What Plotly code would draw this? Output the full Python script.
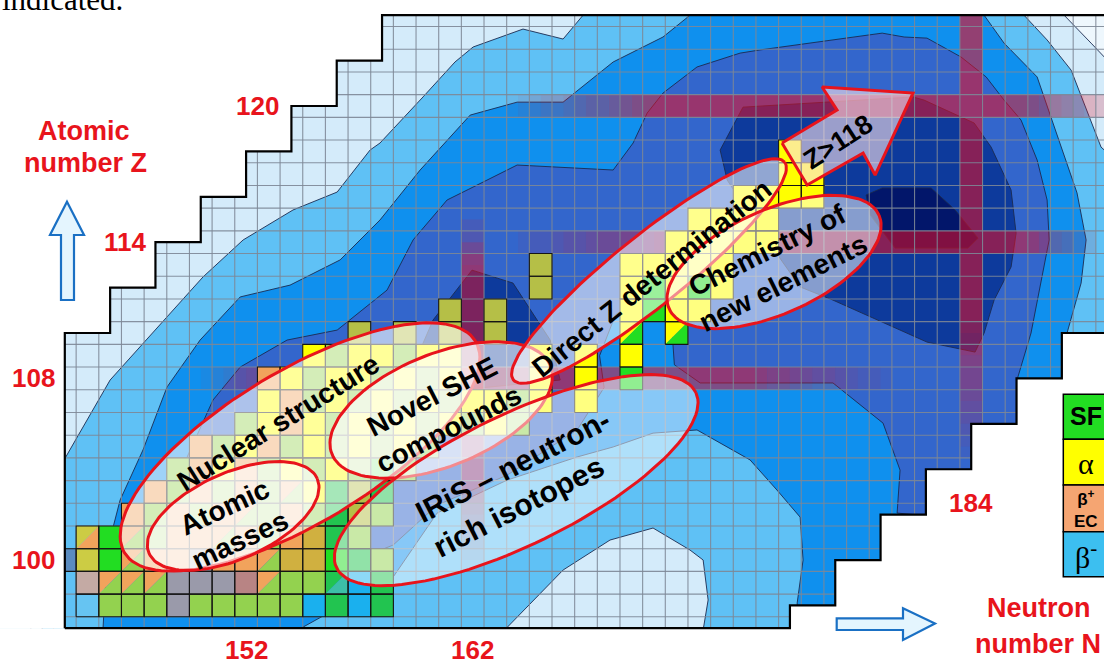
import math
import plotly.graph_objects as go

W, H = 1104, 664
N_RANGE = [141.14, 189.86]
Z_RANGE = [95.42, 124.67]

# ---------------- chart outline (staircase corners) ----------------
upper_edge_N = [144, 144, 146, 146, 148, 148, 150, 150, 152, 152, 154, 154, 156, 156, 158, 158, 191]
upper_edge_Z = [97, 110, 110, 112, 112, 114, 114, 116, 116, 118, 118, 120, 120, 122, 122, 124, 124]
lower_edge_N = [144, 176, 176, 178, 178, 180, 180, 182, 182, 184, 184, 186, 186, 188, 188, 191]
lower_edge_Z = [97, 97, 98, 98, 100, 100, 102, 102, 104, 104, 106, 106, 108, 108, 110, 110]

# ---------------- half-life contour regions (N, Z) ----------------
light_N = [143.5, 146.0, 150.10, 151.87, 154.07, 156.02, 157.47, 157.91, 159.81, 161.22, 162.02, 164.22,
           165.99, 166.87, 166.87, 186.33, 186.33, 187.35, 188.41, 189.11, 189.73, 190.5, 190.5, 143.0, 143.0]
light_Z = [103.6, 107.93, 112.47, 114.10, 115.42, 116.21, 118.06, 118.37, 120.40, 121.94, 122.60, 123.39,
           122.95, 124.0, 124.8, 124.8, 124.0, 122.91, 121.58, 119.82, 118.19, 117.5, 95.0, 95.0, 103.6]

pale_island_N = [163.0, 165.99, 168.06, 169.96, 171.59, 172.17, 172.39, 172.1]
pale_island_Z = [96.5, 99.56, 100.88, 101.41, 100.44, 100.0, 98.24, 96.5]

palest_N = [188.1, 188.1, 189.29, 190.5, 190.5]
palest_Z = [124.8, 124.0, 122.77, 121.5, 124.8]

medium_N = [145.7, 145.69, 145.87, 146.44, 147.45, 148.51, 149.97, 151.74, 153.94, 156.15, 157.91, 159.68,
            161.89, 163.96, 165.99, 168.20, 170.40, 171.59, 171.59, 184.57, 184.57, 185.45, 186.91, 187.52,
            188.23, 188.67, 189.07, 188.85, 188.23, 188.23, 176.32, 176.32, 176.58, 176.45, 175.43, 174.24,
            171.90, 169.96, 168.20, 166.61, 163.52, 160.43, 158.49, 155.84, 154.52, 154.5]
medium_Z = [96.5, 97.05, 100.44, 102.64, 104.85, 107.62, 109.69, 111.59, 112.11, 113.22, 114.98, 117.18,
            119.60, 120.17, 120.17, 121.94, 123.04, 124.0, 124.8, 124.8, 124.0, 122.77, 121.28, 119.51,
            117.49, 116.17, 114.10, 112.20, 110.0, 96.5, 96.5, 98.11, 100.0, 101.89, 103.08, 104.41,
            105.73, 105.59, 104.98, 104.54, 103.52, 102.07, 99.25, 97.80, 97.05, 96.5]

dark_N = [149.40, 150.54, 151.74, 153.81, 156.02, 158.22, 159.37, 160.87, 162.02, 163.96, 168.20, 169.08,
          169.70, 170.40, 171.90, 173.80, 174.68, 180.07, 181.04, 182.05, 183.55, 184.66, 185.45, 186.20,
          186.91, 187.35, 187.44, 187.08, 186.64, 186.02, 187.0, 187.0, 182.5, 180.73, 180.86, 180.11,
          177.90, 175.70, 172.04, 170.9, 170.7, 169.5, 168.3, 167.6, 167.8, 166.61, 163.52, 160.43,
          158.49, 155.71, 152.62, 149.97, 148.87]
dark_Z = [104.54, 107.05, 108.50, 109.69, 110.13, 111.89, 114.10, 115.86, 116.43, 117.40, 117.18, 118.37,
          119.69, 120.57, 121.72, 122.33, 122.47, 123.21, 123.04, 122.99, 122.16, 121.28, 120.26, 119.38,
          117.62, 115.86, 114.10, 112.20, 110.0, 107.93, 107.0, 102.5, 101.9, 102.07, 103.96, 106.03,
          107.80, 107.80, 107.80, 108.6, 111.5, 111.7, 110.8, 109.0, 107.6, 105.73, 103.74, 102.42,
          100.66, 99.56, 99.34, 100.66, 103.08]

darker_N = [173.93, 181.43, 181.92, 184.13, 184.88, 185.76, 185.98, 185.76, 185.01, 184.57, 184.17,
            182.05, 180.86, 177.90, 176.45, 174.68, 173.23, 172.92]
darker_Z = [119.95, 120.40, 120.26, 119.25, 118.19, 116.30, 114.40, 112.91, 111.45, 110.0, 109.16,
            109.60, 110.13, 111.45, 112.03, 114.54, 116.74, 118.06]

darker_isl_N = [160.25, 161.97, 163.78, 164.66, 165.42, 165.86, 161.44, 159.68]
darker_isl_Z = [110.57, 112.77, 112.20, 110.88, 109.69, 107.93, 107.49, 109.25]

darkest_N = [179.36, 180.07, 182.23, 183.29, 184.30, 183.86, 180.64, 179.54]
darkest_Z = [116.08, 116.39, 116.39, 115.42, 114.18, 113.74, 113.74, 115.20]

# ---------------- highlighted shells (band -> opacity profile) ----------------
row_bands = {120: [(163.0, 0.0), (170.0, 0.55), (186.5, 0.55), (190.5, 0.1)],
             114: [(163.5, 0.0), (172.0, 0.55), (186.0, 0.55), (189.5, 0.05)],
             108: [(149.5, 0.0), (155.0, 0.5), (174.0, 0.5), (181.0, 0.0)]}
col_bands = {184: [(104.0, 0.0), (108.0, 0.35), (111.0, 0.55), (124.8, 0.58)],
             162: [(99.0, 0.0), (104.0, 0.45), (113.0, 0.5), (114.6, 0.08)]}

# ---------------- decay-mode cells: row Z -> (first N, codes) ----------------
cell_rows = {
    98: (145, "Bl Gl Gl Gl Gr Gl Gl Gl Gl Gl B Gd B Gd"),
    99: (145, "Rg O/Gl O/Gl O/Gl Gr Gr Gr Mv O/Gl Gl Gl Gd/Te B Gd"),
    100: (144, "St Oy G O/Gl O O Gr O O O/Gl Ob Ob G Gd Gl"),
    101: (145, "Oy/O G O/Gl Gl O O O/Gl O Gl O Ob Gd Gl"),
    102: (147, "O Gl O Gl O O/Gl Gl O Gl Gd Ol Gl"),
    103: (148, "O Gl O Gl O Gl O/Gl Y Gd Ol Gd"),
    104: (149, "Gl O Y O Gl Y Gl Y Gl G Gl"),
    105: (150, "O Gl Y O Gl Y Gl Y Gl Y Gl"),
    106: (152, "Gl Y O Y Gl Y Gl Y Gl Y Gl Y Gl"),
    107: (153, "Y O Gl Y Gl Y Gl Y Gl Y Y Gl Y - Y"),
    108: (153, "O Y Gl Y Y Gl Y Gl Y - - - Y - Y - G"),
    109: (155, "Y Gl Y Y Gl Y Y - - - Y - Y - Y"),
    110: (157, "Ol - Ol - Ol - Ol - - - - - Y/G - Y/G"),
    111: (161, "Ol - Ol - - - - - Y G Y Y"),
    112: (165, "Ol - - - Y G Y G Y"),
    113: (165, "Ol - - - Y Y Y Y Y"),
    114: (171, "Y Y Y Y Y"),
    115: (172, "Y Y Y Y"),
    116: (174, "Y Y Y Y"),
    117: (176, "Y Y"),
    118: (176, "Y"),
}
CELL_COLORS = {'G': '#22dd22', 'Gl': '#93d24f', 'Gd': '#22c450', 'Te': '#3cbfa8', 'Y': '#ffff00',
               'O': '#f1a35c', 'Ob': '#d0b040', 'Ol': '#b5bf47', 'Gr': '#9a9aaa', 'B': '#1ab0ee',
               'Bl': '#66c4f2', 'Mv': '#b88484', 'Rg': '#c4aaa4', 'St': '#5a8cc0', 'Oy': '#cccc44'}

# ---------------- research-topic ellipses ----------------
# text, centre N, centre Z, semi-axis a, semi-axis b, tilt (deg), fill opacity
ellipses = [
    ("Nuclear structure", 154.38, 104.98, 9.04, 3.35, 31, 0.6),
    ("Atomic<br>masses", 151.43, 101.94, 4.06, 1.90, 24, 0.6),
    ("Novel SHE<br>compounds", 160.61, 106.61, 5.20, 2.47, 22, 0.62),
    ("IRiS \u2013 neutron-<br>rich isotopes", 163.92, 103.52, 8.82, 2.87, 26, 0.5),
    ("Direct Z determination", 169.78, 112.73, 7.67, 1.55, 38.7, 0.55),
    ("Chemistry of<br>new elements", 175.30, 113.13, 5.07, 2.29, 24, 0.5),
]
ellipse_text = [  # N, Z, angle, size, align
    (153.43, 106.08, -32, 28, 'center'),
    (151.40, 101.59, -25, 28, 'center'),
    (160.58, 106.48, -27, 28, 'center'),
    (164.17, 103.39, -27, 30, 'left'),
    (169.89, 112.42, -38.7, 28, 'center'),
    (175.34, 112.95, -26.5, 28, 'center'),
]
arrow_N = [175.65, 178.08, 177.42, 181.43, 179.76, 179.23, 176.76]
arrow_Z = [118.37, 119.82, 120.84, 120.57, 116.96, 117.93, 116.52]

z_labels = [100, 108, 114, 120]
z_label_N = [142.64, 142.6, 146.66, 152.51]
n_labels = [152, 162, 184]
n_label_Z = [96.05, 96.03, 102.51]

legend_items = ["<b>SF</b>", "\u03b1", "<b>\u03b2<sup>+</sup><br>EC</b>", "\u03b2<sup>-</sup>"]
legend_colors = ['#22dd22', '#ffff00', '#f5a572', '#3cbff0']

# ---------------- styles ----------------
C_PALEST = "#eef7fd"
C0 = "#d4ebfa"
C1 = "#5fc1f5"
C2 = "#0f90ee"
C3 = "#3366cc"
C4 = "#0d3a9c"
C5 = "#02166a"
EDGE = "#1b2a50"
RED = "#e8141c"
SANS = "Liberation Sans, Arial, Helvetica, sans-serif"
SERIF = "Liberation Serif, Times New Roman, serif"

fig = go.Figure()


def add_region(xs, ys, fill, edge=EDGE, width=0.9):
    fig.add_trace(go.Scatter(x=list(xs) + [xs[0]], y=list(ys) + [ys[0]], mode='lines', fill='toself',
                             fillcolor=fill, line=dict(color=edge, width=width), hoverinfo='skip'))


def add_fill(xs, ys, fill):
    fig.add_trace(go.Scatter(x=xs, y=ys, mode='none', fill='toself', fillcolor=fill, hoverinfo='skip'))


# contour layers
add_region(light_N, light_Z, C1)
add_region(pale_island_N, pale_island_Z, C0)
add_region(palest_N, palest_Z, C_PALEST)
add_region(medium_N, medium_Z, C2)
add_region(dark_N, dark_Z, C3)
add_region(darker_N, darker_Z, C4)
add_region(darker_isl_N, darker_isl_Z, C4)
add_region(darkest_N, darkest_Z, C5)


# shell bands with fading ends
def interp(profile, t):
    if t <= profile[0][0]:
        return profile[0][1]
    for (t0, a0), (t1, a1) in zip(profile[:-1], profile[1:]):
        if t0 <= t <= t1:
            return a0 + (a1 - a0) * (t - t0) / (t1 - t0)
    return profile[-1][1]


band_groups = {}
step = 0.5
for zc, prof in row_bands.items():
    t = prof[0][0]
    while t < prof[-1][0] - 1e-9:
        a = round(interp(prof, t + step / 2) * 20) / 20
        if a > 0:
            gx, gy = band_groups.setdefault(a, ([], []))
            gx += [t, t + step, t + step, t, None]
            gy += [zc - 0.5, zc - 0.5, zc + 0.5, zc + 0.5, None]
        t += step
for nc, prof in col_bands.items():
    t = prof[0][0]
    while t < prof[-1][0] - 1e-9:
        a = round(interp(prof, t + step / 2) * 20) / 20
        if a > 0:
            gx, gy = band_groups.setdefault(a, ([], []))
            gx += [nc - 0.5, nc + 0.5, nc + 0.5, nc - 0.5, None]
            gy += [t, t, t + step, t + step, None]
        t += step
for a, (gx, gy) in sorted(band_groups.items()):
    add_fill(gx, gy, f"rgba(235,12,32,{a})")

# grid
gx, gy = [], []
for k in range(142, 191):
    gx += [k + 0.5, k + 0.5, None]
    gy += [Z_RANGE[0] - 1, Z_RANGE[1] + 1, None]
for k in range(95, 125):
    gx += [N_RANGE[0] - 1, N_RANGE[1] + 1, None]
    gy += [k + 0.5, k + 0.5, None]
fig.add_trace(go.Scatter(x=gx, y=gy, mode='lines', line=dict(color='rgba(125,135,150,0.9)', width=1.1),
                         hoverinfo='skip'))

# decay-mode cells
cell_groups = {}
bx, by = [], []
for zc, (n0, codes) in cell_rows.items():
    for i, code in enumerate(codes.split()):
        if code == '-':
            continue
        nc = n0 + i
        x0, x1, y0, y1 = nc - 0.5, nc + 0.5, zc - 0.5, zc + 0.5
        if '/' in code:
            c_a, c_b = code.split('/')
            ax, ay = cell_groups.setdefault(c_a, ([], []))
            ax += [x0, x0, x1, None]
            ay += [y0, y1, y1, None]
            bx2, by2 = cell_groups.setdefault(c_b, ([], []))
            bx2 += [x0, x1, x1, None]
            by2 += [y0, y0, y1, None]
        else:
            ax, ay = cell_groups.setdefault(code, ([], []))
            ax += [x0, x1, x1, x0, None]
            ay += [y0, y0, y1, y1, None]
        bx += [x0, x1, x1, x0, x0, None]
        by += [y0, y0, y1, y1, y0, None]
for code, (ax, ay) in cell_groups.items():
    add_fill(ax, ay, CELL_COLORS[code])
fig.add_trace(go.Scatter(x=bx, y=by, mode='lines', line=dict(color='#151515', width=1.1), hoverinfo='skip'))

# white outside the chart + staircase outline
mask_a_N = [140] + upper_edge_N + [191, 140]
mask_a_Z = [97] + upper_edge_Z + [126, 126]
mask_b_N = [140] + lower_edge_N + [191, 140]
mask_b_Z = [97] + lower_edge_Z + [94, 94]
add_fill(mask_a_N, mask_a_Z, 'white')
add_fill(mask_b_N, mask_b_Z, 'white')
fig.add_trace(go.Scatter(x=upper_edge_N, y=upper_edge_Z, mode='lines', line=dict(color='black', width=2.2),
                         hoverinfo='skip'))
fig.add_trace(go.Scatter(x=lower_edge_N, y=lower_edge_Z, mode='lines', line=dict(color='black', width=2.2),
                         hoverinfo='skip'))

# ellipses
for (txt, cn, cz, a, b, ang, op) in ellipses:
    phi = math.radians(ang)
    ex, ey = [], []
    for k in range(121):
        t = 2 * math.pi * k / 120
        ex.append(cn + a * math.cos(t) * math.cos(phi) - b * math.sin(t) * math.sin(phi))
        ey.append(cz + a * math.cos(t) * math.sin(phi) + b * math.sin(t) * math.cos(phi))
    fig.add_trace(go.Scatter(x=ex, y=ey, mode='lines', fill='toself', fillcolor=f'rgba(255,255,255,{op})',
                             line=dict(color=RED, width=3), hoverinfo='skip'))

# Z>118 arrow
fig.add_trace(go.Scatter(x=arrow_N + [arrow_N[0]], y=arrow_Z + [arrow_Z[0]], mode='lines', fill='toself',
                         fillcolor='rgba(250,225,235,0.6)', line=dict(color=RED, width=3), hoverinfo='skip'))

annotations = []
for (txt, *_), (tn, tz, tang, tsize, talign) in zip(ellipses, ellipse_text):
    annotations.append(dict(x=tn, y=tz, xref='x', yref='y', text=f"<b>{txt}</b>", showarrow=False,
                            xanchor='center', yanchor='middle',
                            textangle=tang, align=talign, font=dict(family=SANS, size=tsize, color='black')))
annotations.append(dict(x=178.12, y=118.43, xref='x', yref='y', text="<b>Z>118</b>", showarrow=False,
                        xanchor='center', yanchor='middle',
                        textangle=-33, font=dict(family=SANS, size=27, color='black')))

for v, n in zip(z_labels, z_label_N):
    annotations.append(dict(x=n, y=v, xref='x', yref='y', text=f"<b>{v}</b>", showarrow=False,
                            xanchor='center', yanchor='middle',
                            font=dict(family=SANS, size=26, color=RED)))
for v, z in zip(n_labels, n_label_Z):
    annotations.append(dict(x=v, y=z, xref='x', yref='y', text=f"<b>{v}</b>", showarrow=False,
                            xanchor='center', yanchor='middle',
                            font=dict(family=SANS, size=26, color=RED)))


def paper(px, py):
    return px / W, 1 - py / H


for txt, px, py in [("Atomic", 84, 131), ("number Z", 85, 163), ("Neutron", 1039, 607.5),
                    ("number N", 1038, 644)]:
    x, y = paper(px, py)
    annotations.append(dict(x=x, y=y, xref='paper', yref='paper', text=f"<b>{txt}</b>", showarrow=False,
                            xanchor='center', yanchor='middle',
                            font=dict(family=SANS, size=27, color=RED)))

x, y = paper(0, 19)
annotations.append(dict(x=x, y=y, xref='paper', yref='paper', xanchor='left', yanchor='bottom',
                        text="indicated.", showarrow=False, font=dict(family=SERIF, size=31, color='black')))

shapes = []
# legend boxes
edges = [394.3, 439.3, 485.0, 531.7, 576.7]
legend_text_y = [416, 463, 509, 555]
legend_font = [(SANS, 25), (SERIF, 30), (SANS, 17), (SERIF, 30)]
for i, (lab, col) in enumerate(zip(legend_items, legend_colors)):
    x0, y0 = paper(1063.3, edges[i + 1])
    x1, y1 = paper(1112, edges[i])
    shapes.append(dict(type='rect', xref='paper', yref='paper', x0=x0, y0=y0, x1=x1, y1=y1,
                       fillcolor=col, line=dict(color='black', width=1.5), layer='above'))
    tx, ty = paper(1086, legend_text_y[i])
    fam, fs = legend_font[i]
    annotations.append(dict(x=tx, y=ty, xref='paper', yref='paper', text=lab, showarrow=False,
                            xanchor='center', yanchor='middle',
                            font=dict(family=fam, size=fs, color='black')))


def path_from(points):
    parts = []
    for i, (px, py) in enumerate(points):
        x, y = paper(px, py)
        parts.append(("M" if i == 0 else "L") + f"{x:.5f},{y:.5f}")
    return " ".join(parts) + " Z"


up_arrow = [(67, 201.7), (84, 235), (74, 235), (74, 300), (61, 300), (61, 235), (50, 235)]
right_arrow = [(836.7, 618.3), (903, 618.3), (903, 608.3), (935, 623.5), (903, 640), (903, 630), (836.7, 630)]
for pts in (up_arrow, right_arrow):
    shapes.append(dict(type='path', xref='paper', yref='paper', path=path_from(pts),
                       fillcolor='#e4f5fe', line=dict(color='#1a70c4', width=2.2), layer='above'))

fig.update_layout(
    width=W, height=H, margin=dict(l=0, r=0, t=0, b=0, pad=0),
    xaxis=dict(range=N_RANGE, visible=False, fixedrange=True),
    yaxis=dict(range=Z_RANGE, visible=False, fixedrange=True),
    plot_bgcolor=C0, paper_bgcolor='white', showlegend=False,
    annotations=annotations, shapes=shapes,
)
fig.write_html("out.html", include_plotlyjs=True, config={'displayModeBar': False})
